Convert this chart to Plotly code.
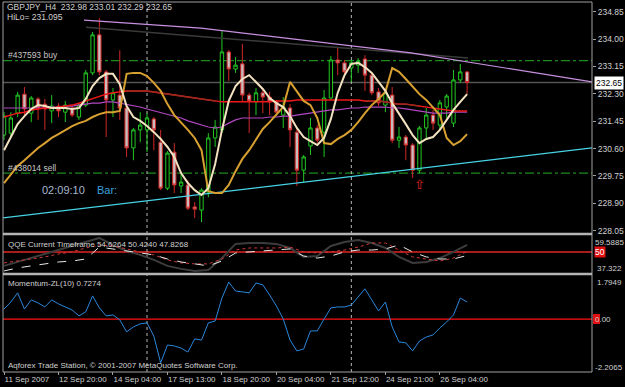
import plotly.graph_objects as go

# ---------------- data ----------------
bars = list(range(69))
opens = [231.02, 231.08, 231.70, 232.29, 231.70, 232.14, 231.98, 231.77, 231.92, 231.73,
         231.86, 231.58, 231.95, 232.95, 234.13, 232.98, 232.11, 232.26, 231.86, 230.62,
         231.18, 231.18, 231.52, 230.80, 229.37, 230.49, 229.44, 229.47, 228.79, 228.69,
         229.25, 230.93, 231.18, 233.60, 233.07, 233.23, 232.26, 232.05, 232.33, 232.20,
         232.05, 231.64, 231.86, 231.11, 229.93, 230.68, 231.24, 231.11, 232.17, 233.35,
         233.26, 233.10, 233.19, 233.38, 232.88, 232.36, 231.95, 232.26, 230.86, 230.96,
         230.71, 229.93, 231.24, 231.64, 231.33, 231.89, 231.39, 232.73, 232.98]
highs = [231.73, 231.73, 232.36, 232.51, 232.23, 232.20, 232.14, 232.26, 232.01, 232.08,
         231.92, 232.01, 233.04, 234.22, 234.65, 233.04, 232.48, 233.65, 231.92, 231.24,
         231.73, 231.70, 231.58, 231.18, 230.52, 230.77, 229.84, 229.62, 228.94, 229.37,
         231.08, 231.49, 234.28, 233.66, 233.44, 233.85, 232.33, 232.48, 232.48, 232.36,
         232.11, 232.20, 231.98, 231.21, 230.40, 231.55, 231.33, 232.42, 233.47, 233.72,
         233.35, 233.35, 233.41, 233.50, 232.98, 232.48, 232.42, 232.51, 231.27, 231.02,
         230.77, 231.30, 231.86, 231.80, 232.11, 232.29, 233.04, 233.23, 233.01]
lows = [230.87, 230.93, 231.58, 231.58, 231.42, 231.49, 231.18, 231.39, 231.58, 231.42,
        231.58, 231.49, 231.89, 232.88, 232.88, 230.96, 231.58, 231.49, 230.34, 230.24,
        230.80, 230.49, 230.55, 229.31, 229.31, 229.22, 229.22, 228.69, 228.44, 228.32,
        229.09, 230.65, 231.08, 232.70, 232.95, 232.05, 231.08, 231.64, 231.70, 231.64,
        231.61, 231.24, 230.65, 229.44, 229.56, 230.40, 230.77, 230.34, 232.11, 232.88,
        232.82, 232.67, 232.95, 232.39, 232.26, 231.92, 231.73, 230.77, 230.62, 230.24,
        229.69, 229.84, 230.86, 231.18, 231.18, 231.55, 231.27, 232.64, 232.29]
closes = [231.61, 231.55, 232.26, 231.83, 232.17, 231.86, 231.83, 231.92, 231.77, 231.95,
          231.64, 231.95, 232.95, 234.13, 232.98, 232.11, 232.33, 231.86, 230.62, 231.18,
          231.33, 231.55, 231.18, 229.37, 230.46, 229.47, 229.56, 228.75, 228.72, 229.31,
          230.93, 231.27, 233.60, 233.07, 233.19, 232.26, 232.08, 232.33, 232.20, 232.05,
          231.73, 231.89, 231.18, 229.93, 230.34, 231.24, 230.86, 232.17, 233.35, 233.26,
          232.98, 233.26, 233.32, 232.88, 232.33, 232.02, 232.33, 230.86, 230.96, 230.71,
          229.93, 231.24, 231.64, 231.39, 232.02, 232.23, 232.73, 232.98, 232.65]

ma_fast = [230.55, 230.96, 231.36, 231.61, 231.83, 231.95, 231.92, 231.86, 231.86, 231.86,
           231.83, 231.86, 232.14, 232.54, 232.79, 232.92, 232.92, 232.60, 231.92, 231.58,
           231.46, 231.30, 231.11, 230.90, 230.65, 230.34, 229.84, 229.53, 229.31, 229.16,
           229.37, 230.12, 231.18, 232.08, 232.54, 232.76, 232.88, 232.67, 232.45, 232.17,
           232.01, 231.89, 231.61, 231.24, 230.96, 230.83, 230.71, 230.93, 231.52, 232.33,
           232.88, 233.23, 233.26, 233.13, 232.95, 232.67, 232.39, 232.01, 231.70, 231.36,
           231.02, 230.77, 230.90, 230.96, 231.18, 231.49, 231.80, 232.05, 232.29]
ma_gold = [229.53, 229.81, 230.06, 230.24, 230.43, 230.62, 230.77, 230.93, 231.05, 231.18,
           231.30, 231.39, 231.46, 231.58, 231.67, 231.73, 231.73, 231.77, 232.92, 232.95,
           232.95, 232.85, 232.64, 232.39, 231.98, 231.64, 231.42, 231.18, 230.93, 230.55,
           229.28, 229.22, 229.22, 229.47, 229.90, 230.28, 230.55, 230.90, 231.21, 231.42,
           231.64, 231.89, 232.67, 232.36, 232.08, 231.95, 231.55, 230.77, 230.74, 230.90,
           231.02, 231.18, 231.42, 231.70, 231.95, 232.14, 232.36, 233.10, 232.98, 232.76,
           232.54, 232.29, 232.11, 231.89, 231.64, 230.93, 230.71, 230.83, 231.05]
ma_red = [231.58, 231.64, 231.70, 231.73, 231.80, 231.83, 231.86, 231.86, 231.89, 231.92,
          231.95, 232.01, 232.08, 232.17, 232.23, 232.29, 232.33, 232.36, 232.39, 232.39,
          232.39, 232.39, 232.36, 232.33, 232.29, 232.26, 232.23, 232.20, 232.17, 232.14,
          232.11, 232.08, 232.05, 232.05, 232.05, 232.05, 232.05, 232.05, 232.05, 232.05,
          232.08, 232.08, 232.08, 232.11, 232.11, 232.11, 232.11, 232.11, 232.11, 232.11,
          232.11, 232.11, 232.11, 232.08, 232.08, 232.08, 232.05, 232.01, 231.98, 231.98,
          231.95, 231.92, 231.89, 231.86, 231.83, 231.80, 231.77, 231.77, 231.77]
ma_purple = [231.86, 231.86, 231.86, 231.86, 231.86, 231.86, 231.86, 231.89, 231.89, 231.92,
             231.92, 231.95, 231.98, 232.01, 232.01, 232.05, 232.05, 232.01, 231.98, 231.95,
             231.89, 231.83, 231.77, 231.73, 231.67, 231.61, 231.55, 231.46, 231.39, 231.33,
             231.27, 231.24, 231.27, 231.39, 231.49, 231.55, 231.55, 231.55, 231.55, 231.58,
             231.58, 231.61, 231.61, 231.64, 231.67, 231.70, 231.73, 231.77, 231.80, 231.80,
             231.83, 231.86, 231.86, 231.89, 231.89, 231.89, 231.89, 231.86, 231.86, 231.83,
             231.80, 231.77, 231.73, 231.70, 231.70, 231.70, 231.73, 231.73, 231.73]

momentum = [0.43, 0.73, 1.12, 0.43, 0.82, 0.69, 0.52, 0.82, 0.65, 0.52,
            0.39, 0.14, 0.31, 0.99, 0.48, 0.14, 0.18, -0.03, -0.54, -0.33,
            -0.20, -0.16, -0.72, -1.86, -1.10, -1.14, -1.23, -1.40, -0.84, -0.89,
            -0.16, -0.08, 0.90, 1.58, 1.20, 1.16, 1.12, 1.54, 1.46, 1.03,
            0.56, 0.01, -0.89, -1.35, -1.27, -0.50, -0.50, 0.01, 0.48, 0.52,
            0.52, 0.60, 0.95, 1.29, 0.82, 0.35, 0.73, -0.33, -0.97, -1.01,
            -1.35, -0.93, -0.76, -0.67, -0.37, -0.12, 0.18, 0.90, 0.7274]

qqe_bars = list(range(0, 69, 2))
qqe_rsi = [41.2, 43.7, 46.2, 48.8, 51.3, 53.9, 56.4, 59.0, 54.5, 50.7,
           48.2, 45.0, 41.2, 39.3, 38.0, 38.6, 46.2, 55.2, 55.8, 55.8,
           55.2, 52.6, 46.9, 47.5, 53.9, 56.4, 57.7, 55.8, 52.6, 46.9,
           43.1, 43.7, 46.2, 50.1, 54.63]
qqe_fast = [43.1, 44.3, 45.6, 46.9, 48.8, 50.1, 52.6, 54.5, 53.9, 52.0,
            50.1, 48.2, 45.0, 43.1, 42.5, 42.5, 45.6, 51.3, 52.6, 52.6,
            52.6, 53.2, 50.1, 49.4, 50.1, 51.3, 53.2, 55.8, 55.8, 51.3,
            46.9, 45.6, 44.3, 46.2, 50.42]
qqe_slow = [38.0, 39.9, 41.2, 42.5, 43.7, 44.3, 45.6, 53.2, 52.0, 50.7,
            49.4, 48.2, 45.6, 43.7, 42.5, 41.2, 44.3, 49.4, 50.1, 50.7,
            51.3, 52.0, 47.5, 46.2, 47.5, 50.1, 51.3, 51.3, 52.0, 54.5,
            50.1, 46.9, 45.6, 45.6, 47.83]

date_ticks = [0, 8, 16, 24, 32, 40, 48, 56, 64]
date_labels = ["11 Sep 2007", "12 Sep 20:00", "14 Sep 04:00", "17 Sep 13:00", "18 Sep 20:00",
               "20 Sep 04:00", "21 Sep 12:00", "24 Sep 21:00", "26 Sep 04:00"]
price_ticks = [234.85, 234.00, 233.15, 232.30, 231.45, 230.60, 229.75, 228.90, 228.05]
week_breaks = [21, 51]

bid_price = 232.65
buy_level = 233.33
sell_level = 229.84
resist_x = [11.75, 28.93, 59.77, 86.34]
resist_y = [234.59, 234.34, 233.57, 232.67]
channel_x = [12.04, 68.14]
channel_y = [234.37, 233.41]
support_x = [-0.15, 86.34]
support_y = [228.45, 230.62]
arrow_bar = 61

qqe_max, qqe_mid, qqe_min = 59.5885, 50, 37.322
mom_max, mom_min = 1.7949, -2.2065

# ---------------- layout geometry ----------------
W, H = 625, 387
ML, MR, MT, MB = 3, 33, 2, 15
PW, PH = W - ML - MR, H - MT - MB


def py(p):  # pixel row -> paper y
    return (H - MB - p) / PH


def px(p):  # pixel col -> paper x
    return (p - ML) / PW


FONT = "Liberation Sans"
LBL = "#d0d0d0"

fig = go.Figure()

# trend objects (under the bars)
fig.add_trace(go.Scatter(x=support_x, y=support_y, mode="lines",
                         line=dict(color="#46d4e6", width=1.3), hoverinfo="skip"))
fig.add_trace(go.Scatter(x=channel_x, y=channel_y, mode="lines",
                         line=dict(color="#3a3a3a", width=1.5), hoverinfo="skip"))
fig.add_trace(go.Scatter(x=resist_x, y=resist_y, mode="lines",
                         line=dict(color="#c890e0", width=1.2), hoverinfo="skip"))

fig.add_trace(go.Candlestick(
    x=bars, open=opens, high=highs, low=lows, close=closes,
    increasing=dict(line=dict(color="#22c822", width=1), fillcolor="#000000"),
    decreasing=dict(line=dict(color="#d02828", width=1), fillcolor="#c8bcbc"),
    whiskerwidth=0, xaxis="x", yaxis="y", hoverinfo="skip"))

fig.add_trace(go.Scatter(x=bars, y=ma_purple, mode="lines",
                         line=dict(color="#b048c0", width=1.2), hoverinfo="skip"))
fig.add_trace(go.Scatter(x=bars, y=ma_red, mode="lines",
                         line=dict(color="#f01818", width=1.5), hoverinfo="skip"))
fig.add_trace(go.Scatter(x=bars[18:32], y=ma_red[18:32], mode="lines",
                         line=dict(color="#9c2a1c", width=1.5), hoverinfo="skip"))
fig.add_trace(go.Scatter(x=bars[53:62], y=ma_red[53:62], mode="lines",
                         line=dict(color="#9c2a1c", width=1.5), hoverinfo="skip"))
fig.add_trace(go.Scatter(x=bars, y=ma_gold, mode="lines",
                         line=dict(color="#d8a030", width=2), hoverinfo="skip"))
fig.add_trace(go.Scatter(x=bars, y=ma_fast, mode="lines",
                         line=dict(color="#f3e2c0", width=2), hoverinfo="skip"))

# QQE window
fig.add_trace(go.Scatter(x=qqe_bars, y=qqe_rsi, mode="lines", yaxis="y2",
                         line=dict(color="#3c3c3c", width=2), hoverinfo="skip"))
fig.add_trace(go.Scatter(x=qqe_bars, y=qqe_fast, mode="lines", yaxis="y2",
                         line=dict(color="#d03a3a", width=1, dash="dot"), hoverinfo="skip"))
fig.add_trace(go.Scatter(x=qqe_bars, y=qqe_slow, mode="lines", yaxis="y2",
                         line=dict(color="#e8e8e8", width=1, dash="dash"), hoverinfo="skip"))

# Momentum window
fig.add_trace(go.Scatter(x=bars, y=momentum, mode="lines", yaxis="y3",
                         line=dict(color="#2a88dd", width=1), hoverinfo="skip"))

shapes = []
# horizontal levels
shapes.append(dict(type="line", xref="paper", x0=0, x1=1, yref="y", y0=bid_price, y1=bid_price,
                   line=dict(color="#555555", width=1.5), layer="below"))
for lv in (buy_level, sell_level):
    shapes.append(dict(type="line", xref="paper", x0=0, x1=1, yref="y", y0=lv, y1=lv,
                       line=dict(color="#1e8a1e", width=1.3, dash="dashdot"), layer="below"))
shapes.append(dict(type="line", xref="paper", x0=0, x1=1, yref="y2", y0=qqe_mid, y1=qqe_mid,
                   line=dict(color="#a81c1c", width=2), layer="below"))
shapes.append(dict(type="line", xref="paper", x0=0, x1=1, yref="y3", y0=0, y1=0,
                   line=dict(color="#ff1010", width=1.3), layer="below"))
# week separators
for wb in week_breaks:
    shapes.append(dict(type="line", xref="x", x0=wb, x1=wb, yref="paper", y0=0, y1=1,
                       line=dict(color="#b8b8b8", width=1, dash="dot"), layer="below"))
# frame & window separators
shapes.append(dict(type="rect", xref="paper", yref="paper", x0=0, x1=1, y0=0, y1=1,
                   line=dict(color="#a0a0a0", width=1)))
for sep in (234, 274):
    shapes.append(dict(type="line", xref="paper", x0=0, x1=1, yref="paper", y0=py(sep), y1=py(sep),
                       line=dict(color="#b4b4b4", width=2.5)))
# red marker behind "0.00"
shapes.append(dict(type="rect", xref="paper", yref="paper", x0=px(593), x1=px(600),
                   y0=py(324), y1=py(314), fillcolor="#e01010", line=dict(width=0)))

ann = []


def txt(x, y, s, size=8.5, color=LBL, **kw):
    ann.append(dict(xref="paper", yref="paper", x=px(x), y=py(y), text=s, showarrow=False,
                    xanchor="left", yanchor="middle", font=dict(family=FONT, size=size, color=color), **kw))


txt(5, 7, "GBPJPY_H4  232.98 233.01 232.29 232.65")
txt(5, 17, "HiLo= 231.095")
txt(6, 55, "#437593 buy", color="#c8c8c8")
txt(6, 168, "#438014 sell", color="#c8c8c8")
txt(40, 190, "02:09:10", size=11, color="#a8b8d0")
txt(95, 190, "Bar:", size=11, color="#3aa0dc")
txt(6, 245, "QQE Current Timeframe 54.6264 50.4240 47.8268", size=8)
txt(6, 283, "Momentum-ZL(10) 0.7274", size=8)
txt(6, 365, "Aqforex Trade Station, \u00a9 2001-2007 MetaQuotes Software Corp.", size=8)
txt(593, 242, "59.5885", size=8)
txt(595, 268, "37.322", size=8)
txt(595, 282, "1.7949", size=8)
txt(593, 367, "-2.2065", size=8)
txt(593, 319, "0.00", size=8)
ann.append(dict(xref="paper", yref="y2", x=px(594), y=qqe_mid, text="50", showarrow=False,
                xanchor="left", yanchor="middle", bgcolor="#e01010", borderpad=0,
                font=dict(family=FONT, size=8.5, color="#ffffff")))
ann.append(dict(xref="paper", yref="y", x=px(594), y=bid_price, text="232.65", showarrow=False,
                xanchor="left", yanchor="middle", bgcolor="#ffffff", borderpad=1,
                font=dict(family=FONT, size=8.5, color="#000000")))
ann.append(dict(xref="x", yref="y", x=arrow_bar, y=lows[arrow_bar], text="\u21e7", showarrow=False,
                xanchor="center", yanchor="top", yshift=-2,
                font=dict(family="DejaVu Sans", size=13, color="#e02020")))

fig.update_layout(
    width=W, height=H, margin=dict(l=ML, r=MR, t=MT, b=MB, autoexpand=False),
    paper_bgcolor="#000000", plot_bgcolor="#000000", showlegend=False,
    font=dict(family=FONT, size=8.5, color=LBL),
    shapes=shapes, annotations=ann,
    xaxis=dict(domain=[0, 1], range=[-0.15, 86.34], anchor="y3", automargin=False,
               tickmode="array", tickvals=date_ticks, ticktext=date_labels, tickangle=0,
               ticks="outside", ticklen=3, tickcolor="#a0a0a0",
               ticklabelposition="outside right",
               tickfont=dict(family=FONT, size=8, color=LBL),
               showgrid=False, zeroline=False, showline=False,
               rangeslider=dict(visible=False), fixedrange=True),
    yaxis=dict(domain=[py(233), 1], range=[227.98, 235.15], side="right", anchor="x", automargin=False,
               tickmode="array", tickvals=price_ticks, ticktext=[f"{v:.2f}" for v in price_ticks],
               ticks="outside", ticklen=3, tickcolor="#a0a0a0",
               tickfont=dict(family=FONT, size=8.5, color=LBL),
               showgrid=False, zeroline=False, showline=False, fixedrange=True),
    yaxis2=dict(domain=[py(272), py(237)], range=[qqe_min, qqe_max], anchor="x", side="right",
                automargin=False,
                showticklabels=False, showgrid=False, zeroline=False, showline=False, fixedrange=True),
    yaxis3=dict(domain=[py(371), py(277)], range=[mom_min, mom_max], anchor="x", side="right",
                automargin=False,
                showticklabels=False, showgrid=False, zeroline=False, showline=False, fixedrange=True),
)

fig.write_html("out.html")
